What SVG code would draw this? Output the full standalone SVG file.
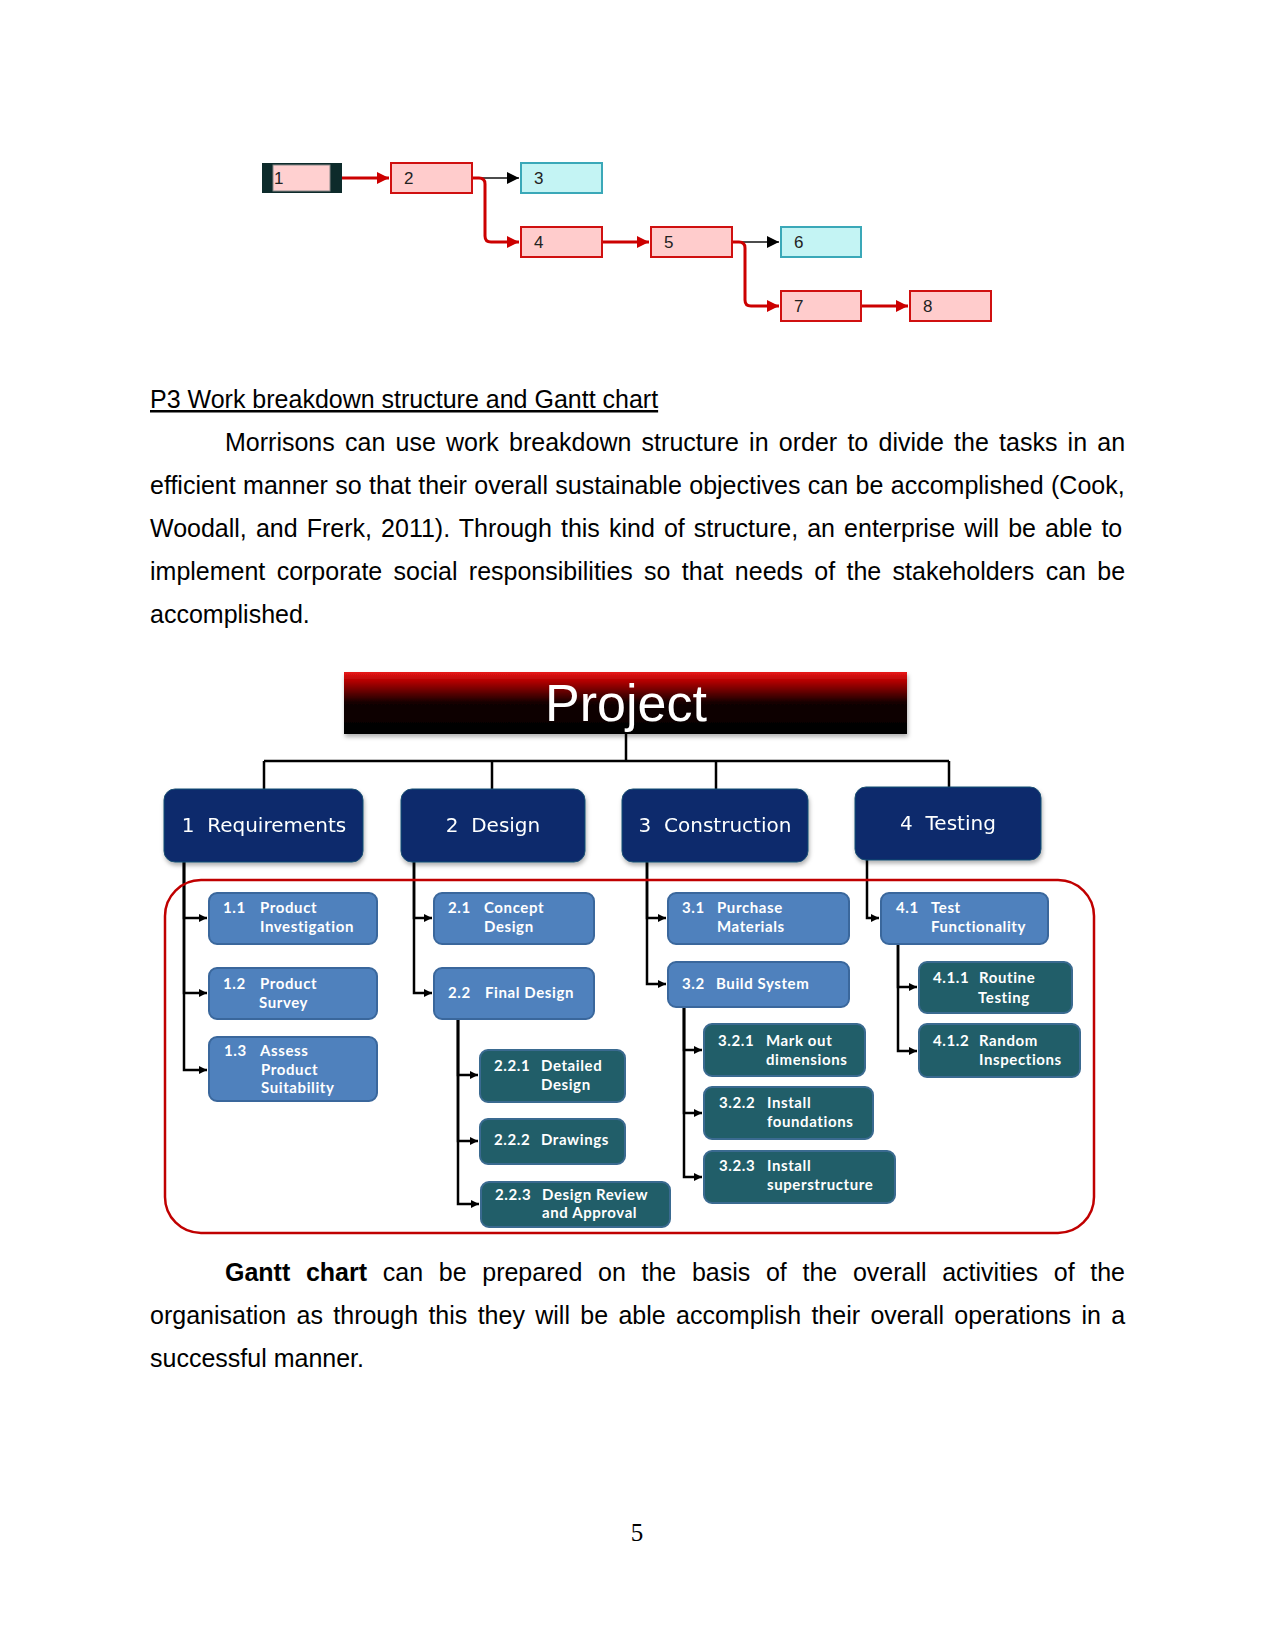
<svg xmlns="http://www.w3.org/2000/svg" width="1275" height="1650" viewBox="0 0 1275 1650">
<defs>
<style>
.body{font-family:"Liberation Sans",Arial,sans-serif;font-size:25px;fill:#000}
.pn{font-family:"Liberation Sans",Arial,sans-serif;font-size:17px;fill:#222}
.pink{fill:#ffcccc;stroke:#d01010;stroke-width:2}
.cyan{fill:#c4f4f4;stroke:#3aa8b8;stroke-width:2}
.red{fill:none;stroke:#cc0000;stroke-width:3}
.blk{fill:none;stroke:#111;stroke-width:1.5}
.l1{fill:#072a6c;stroke:#1d4f73;stroke-width:1}
.l1t{font-family:"DejaVu Sans",Verdana,sans-serif;font-size:20px;fill:#fff;text-anchor:middle}
.l2{fill:#4f81bd;stroke:#3a679c;stroke-width:2}
.l3{fill:#215e69;stroke:#3a6a90;stroke-width:2}
.bt{font-family:Lato,"Liberation Sans",sans-serif;font-weight:700;font-size:15px;fill:#fff;letter-spacing:0.6px}
.wc{fill:none;stroke:#000;stroke-width:2.5}
</style>
<marker id="ar" viewBox="0 0 10 10" refX="10" refY="5" markerWidth="12" markerHeight="12" markerUnits="userSpaceOnUse" orient="auto"><path d="M0,0 L10,5 L0,10 z" fill="#cc0000"/></marker>
<marker id="ab" viewBox="0 0 10 10" refX="10" refY="5" markerWidth="12" markerHeight="12" markerUnits="userSpaceOnUse" orient="auto"><path d="M0,0 L10,5 L0,10 z" fill="#000"/></marker>
<marker id="aw" viewBox="0 0 10 10" refX="10" refY="5" markerWidth="8" markerHeight="8" markerUnits="userSpaceOnUse" orient="auto"><path d="M0,0 L10,5 L0,10 z" fill="#000"/></marker>
<linearGradient id="pg" x1="0" y1="0" x2="0" y2="1">
<stop offset="0" stop-color="#e81818"/>
<stop offset="0.15" stop-color="#b00000"/>
<stop offset="0.5" stop-color="#120000"/>
<stop offset="1" stop-color="#000"/>
</linearGradient>
<filter id="sh" x="-10%" y="-10%" width="120%" height="130%"><feDropShadow dx="1" dy="3" stdDeviation="2" flood-color="#000" flood-opacity="0.3"/></filter>
</defs>
<rect width="1275" height="1650" fill="#fff"/>

<!-- network diagram -->
<g id="net-connectors">
<path class="red" d="M342 178 H389" marker-end="url(#ar)"/>
<path class="blk" d="M472 178 H519" marker-end="url(#ab)"/>
<path class="red" d="M472 178 H479 Q485 178 485 184 V236 Q485 242 491 242 H519" marker-end="url(#ar)"/>
<path class="red" d="M602 242 H649" marker-end="url(#ar)"/>
<path class="blk" d="M732 242 H779" marker-end="url(#ab)"/>
<path class="red" d="M732 242 H739 Q745 242 745 248 V300 Q745 306 751 306 H779" marker-end="url(#ar)"/>
<path class="red" d="M861 306 H908" marker-end="url(#ar)"/>
</g>
<g id="n1"><rect x="262" y="163" width="80" height="30" fill="#0d2b2b"/><rect x="273" y="165" width="57" height="26" fill="#ffd0d0" stroke="#888" stroke-width="1"/><text class="pn" x="274" y="184">1</text></g>
<g id="n2"><rect class="pink" x="391" y="163" width="81" height="30"/><text class="pn" x="404" y="184">2</text></g>
<g id="n3"><rect class="cyan" x="521" y="163" width="81" height="30"/><text class="pn" x="534" y="184">3</text></g>
<g id="n4"><rect class="pink" x="521" y="227" width="81" height="30"/><text class="pn" x="534" y="248">4</text></g>
<g id="n5"><rect class="pink" x="651" y="227" width="81" height="30"/><text class="pn" x="664" y="248">5</text></g>
<g id="n6"><rect class="cyan" x="781" y="227" width="80" height="30"/><text class="pn" x="794" y="248">6</text></g>
<g id="n7"><rect class="pink" x="781" y="291" width="80" height="30"/><text class="pn" x="794" y="312">7</text></g>
<g id="n8"><rect class="pink" x="910" y="291" width="81" height="30"/><text class="pn" x="923" y="312">8</text></g>

<!-- text -->
<text class="body" x="150" y="408" text-decoration="underline">P3 Work breakdown structure and Gantt chart</text>
<text class="body" x="225" y="451" word-spacing="3.29">Morrisons can use work breakdown structure in order to divide the tasks in an</text>
<text class="body" x="150" y="494" word-spacing="0.47">efficient manner so that their overall sustainable objectives can be accomplished (Cook,</text>
<text class="body" x="150" y="537" word-spacing="2.15">Woodall, and Frerk, 2011). Through this kind of structure, an enterprise will be able to</text>
<text class="body" x="150" y="580" word-spacing="4.38">implement corporate social responsibilities so that needs of the stakeholders can be</text>
<text class="body" x="150" y="623">accomplished.</text>

<!-- WBS -->
<g id="wbs-connectors">
<path class="wc" d="M626 734 V761 M264 761 H949 M264 761 V789 M492 761 V789 M716 761 V789 M949 761 V787"/>
<path class="wc" d="M184 862 V918 H207" marker-end="url(#aw)"/>
<path class="wc" d="M184 862 V993 H207" marker-end="url(#aw)"/>
<path class="wc" d="M184 862 V1070 H207" marker-end="url(#aw)"/>
<path class="wc" d="M414 862 V918 H432" marker-end="url(#aw)"/>
<path class="wc" d="M414 862 V993 H432" marker-end="url(#aw)"/>
<path class="wc" d="M458 1019 V1075 H478" marker-end="url(#aw)"/>
<path class="wc" d="M458 1019 V1141 H478" marker-end="url(#aw)"/>
<path class="wc" d="M458 1019 V1204 H479" marker-end="url(#aw)"/>
<path class="wc" d="M647 862 V918 H666" marker-end="url(#aw)"/>
<path class="wc" d="M647 862 V984 H666" marker-end="url(#aw)"/>
<path class="wc" d="M684 1007 V1050 H702" marker-end="url(#aw)"/>
<path class="wc" d="M684 1007 V1113 H702" marker-end="url(#aw)"/>
<path class="wc" d="M684 1007 V1177 H702" marker-end="url(#aw)"/>
<path class="wc" d="M867 860 V918 H879" marker-end="url(#aw)"/>
<path class="wc" d="M898 944 V987 H917" marker-end="url(#aw)"/>
<path class="wc" d="M898 944 V1051 H917" marker-end="url(#aw)"/>
</g>
<rect id="frame" x="165" y="880" width="929" height="353" rx="36" fill="none" stroke="#c00000" stroke-width="2.5"/>

<g id="project" filter="url(#sh)"><rect x="344" y="672" width="563" height="62" fill="url(#pg)"/><text x="626" y="721" font-family="'Liberation Sans',Arial,sans-serif" font-size="52" fill="#fff" text-anchor="middle">Project</text></g>

<g id="w1" filter="url(#sh)"><rect class="l1" x="164" y="789" width="199" height="73" rx="11"/><text class="l1t" x="264" y="832">1 &#160;Requirements</text></g>
<g id="w2" filter="url(#sh)"><rect class="l1" x="401" y="789" width="184" height="73" rx="11"/><text class="l1t" x="493" y="832">2 &#160;Design</text></g>
<g id="w3" filter="url(#sh)"><rect class="l1" x="622" y="789" width="186" height="73" rx="11"/><text class="l1t" x="715" y="832">3 &#160;Construction</text></g>
<g id="w4" filter="url(#sh)"><rect class="l1" x="855" y="787" width="186" height="73" rx="11"/><text class="l1t" x="948" y="830">4 &#160;Testing</text></g>

<g id="w11"><rect class="l2" x="209" y="893" width="168" height="51" rx="8"/><text class="bt" x="223" y="913">1.1</text><text class="bt" x="260" y="913">Product</text><text class="bt" x="260" y="932">Investigation</text></g>
<g id="w12"><rect class="l2" x="209" y="968" width="168" height="51" rx="8"/><text class="bt" x="223" y="989">1.2</text><text class="bt" x="260" y="989">Product</text><text class="bt" x="259" y="1008">Survey</text></g>
<g id="w13"><rect class="l2" x="209" y="1037" width="168" height="64" rx="8"/><text class="bt" x="224" y="1056">1.3</text><text class="bt" x="260" y="1056">Assess</text><text class="bt" x="261" y="1075">Product</text><text class="bt" x="261" y="1093">Suitability</text></g>
<g id="w21"><rect class="l2" x="434" y="893" width="160" height="51" rx="8"/><text class="bt" x="448" y="913">2.1</text><text class="bt" x="484" y="913">Concept</text><text class="bt" x="484" y="932">Design</text></g>
<g id="w22"><rect class="l2" x="434" y="968" width="160" height="51" rx="8"/><text class="bt" x="448" y="998">2.2</text><text class="bt" x="485" y="998">Final Design</text></g>
<g id="w31"><rect class="l2" x="668" y="893" width="181" height="51" rx="8"/><text class="bt" x="682" y="913">3.1</text><text class="bt" x="717" y="913">Purchase</text><text class="bt" x="717" y="932">Materials</text></g>
<g id="w32"><rect class="l2" x="668" y="962" width="181" height="45" rx="8"/><text class="bt" x="682" y="989">3.2</text><text class="bt" x="716" y="989">Build System</text></g>
<g id="w41"><rect class="l2" x="881" y="893" width="167" height="51" rx="8"/><text class="bt" x="896" y="913">4.1</text><text class="bt" x="931" y="913">Test</text><text class="bt" x="931" y="932">Functionality</text></g>

<g id="w221"><rect class="l3" x="480" y="1050" width="145" height="52" rx="8"/><text class="bt" x="494" y="1071">2.2.1</text><text class="bt" x="541" y="1071">Detailed</text><text class="bt" x="541" y="1090">Design</text></g>
<g id="w222"><rect class="l3" x="480" y="1119" width="145" height="45" rx="8"/><text class="bt" x="494" y="1145">2.2.2</text><text class="bt" x="541" y="1145">Drawings</text></g>
<g id="w223"><rect class="l3" x="481" y="1182" width="189" height="45" rx="8"/><text class="bt" x="495" y="1200">2.2.3</text><text class="bt" x="542" y="1200">Design Review</text><text class="bt" x="542" y="1218">and Approval</text></g>
<g id="w321"><rect class="l3" x="704" y="1024" width="161" height="52" rx="8"/><text class="bt" x="718" y="1046">3.2.1</text><text class="bt" x="766" y="1046">Mark out</text><text class="bt" x="766" y="1065">dimensions</text></g>
<g id="w322"><rect class="l3" x="704" y="1087" width="169" height="52" rx="8"/><text class="bt" x="719" y="1108">3.2.2</text><text class="bt" x="767" y="1108">Install</text><text class="bt" x="767" y="1127">foundations</text></g>
<g id="w323"><rect class="l3" x="704" y="1151" width="191" height="52" rx="8"/><text class="bt" x="719" y="1171">3.2.3</text><text class="bt" x="767" y="1171">Install</text><text class="bt" x="767" y="1190">superstructure</text></g>
<g id="w411"><rect class="l3" x="919" y="962" width="153" height="51" rx="8"/><text class="bt" x="933" y="983">4.1.1</text><text class="bt" x="979" y="983">Routine</text><text class="bt" x="978" y="1003">Testing</text></g>
<g id="w412"><rect class="l3" x="919" y="1024" width="161" height="53" rx="8"/><text class="bt" x="933" y="1046">4.1.2</text><text class="bt" x="979" y="1046">Random</text><text class="bt" x="979" y="1065">Inspections</text></g>

<!-- Gantt paragraph -->
<text class="body" x="225" y="1281" word-spacing="8.73"><tspan font-weight="bold">Gantt chart</tspan> can be prepared on the basis of the overall activities of the</text>
<text class="body" x="150" y="1324" word-spacing="3.39">organisation as through this they will be able accomplish their overall operations in a</text>
<text class="body" x="150" y="1367">successful manner.</text>

<text x="637" y="1541" font-family="'Liberation Serif','Times New Roman',serif" font-size="25" text-anchor="middle">5</text>
</svg>
